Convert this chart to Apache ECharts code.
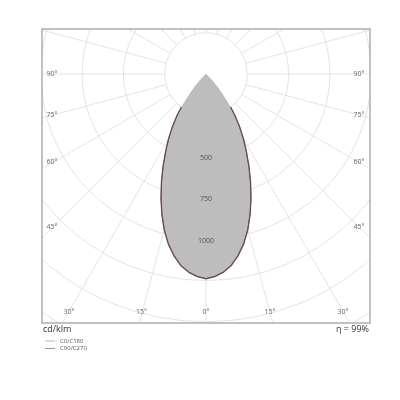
<!DOCTYPE html>
<html><head><meta charset="utf-8">
<script src="https://cdn.jsdelivr.net/npm/echarts@6/dist/echarts.min.js"></script>
<style>html,body{margin:0;padding:0;background:#fff}#c{width:400px;height:400px}</style>
</head><body><div id="c"></div>
<script>
// gamma angles (degrees from nadir)
const gammas = [0, 2.5, 5, 7.5, 10, 12.5, 15, 17.5, 20, 22.5, 25, 27.5, 30, 32.5, 35, 37.5, 40, 42.5, 45, 47.5, 50];
// luminous intensity cd/klm
const intensityC0   = [1240, 1228, 1205, 1170, 1118, 1055, 978, 890, 798, 705, 615, 530, 455, 380, 305, 228, 150, 100, 60, 25, 0];
const intensityC180 = [1240, 1228, 1205, 1170, 1118, 1055, 978, 890, 798, 705, 615, 530, 455, 380, 305, 228, 150, 100, 60, 25, 0];
const intensityC90  = [1238, 1226, 1203, 1167, 1115, 1052, 975, 887, 795, 702, 612, 527, 452, 377, 302, 225, 148, 98, 58, 23, 0];
const intensityC270 = [1238, 1226, 1203, 1167, 1115, 1052, 975, 887, 795, 702, 612, 527, 452, 377, 302, 225, 148, 98, 58, 23, 0];
const radiusLabels = [500, 750, 1000];
const sideAngleLabels = ['90°', '75°', '60°', '45°'];
const bottomAngleLabels = ['30°', '15°', '0°', '15°', '30°'];
const seriesNames = ['C0/C180', 'C90/C270'];

function plane(left, right) {
  const pts = [];
  for (let i = gammas.length - 1; i >= 0; i--) pts.push([left[i], -gammas[i]]);
  for (let i = 1; i < gammas.length; i++) pts.push([right[i], gammas[i]]);
  return pts;
}
const dataC0 = plane(intensityC180, intensityC0);
const dataC90 = plane(intensityC270, intensityC90);

const FL = 42, FR = 370, FT = 29, FB = 323, CX = 206, CY = 74;
const font = '"Open Sans", sans-serif';
const graphics = [
  {type:'rect', shape:{x:0,y:0,width:400,height:FT}, style:{fill:'#fff'}, z:100, silent:true},
  {type:'rect', shape:{x:0,y:FB,width:400,height:400-FB}, style:{fill:'#fff'}, z:100, silent:true},
  {type:'rect', shape:{x:0,y:0,width:FL,height:400}, style:{fill:'#fff'}, z:100, silent:true},
  {type:'rect', shape:{x:FR,y:0,width:400-FR,height:400}, style:{fill:'#fff'}, z:100, silent:true},
  {type:'rect', shape:{x:FL,y:FT,width:FR-FL,height:FB-FT}, style:{fill:null, stroke:'#adadad', lineWidth:1.5}, z:101, silent:true}
];
const sideY = [73.5, 115, 161.5, 227];
sideAngleLabels.forEach((t, i) => {
  graphics.push({type:'text', x:52, y:sideY[i], style:{text:t, fill:'#666', font:'7px ' + font, textAlign:'center', textVerticalAlign:'middle'}, z:102});
  graphics.push({type:'text', x:359, y:sideY[i], style:{text:t, fill:'#666', font:'7px ' + font, textAlign:'center', textVerticalAlign:'middle'}, z:102});
});
const bottomX = [69, 141.5, 206, 270, 343];
bottomAngleLabels.forEach((t, i) => {
  graphics.push({type:'text', x:bottomX[i], y:312, style:{text:t, fill:'#666', font:'7px ' + font, textAlign:'center', textVerticalAlign:'middle'}, z:102});
});
graphics.push({type:'text', x:43, y:329, style:{text:'cd/klm', fill:'#333', font:'9px ' + font, textAlign:'left', textVerticalAlign:'middle'}, z:102});
graphics.push({type:'text', x:369, y:329, style:{text:'η = 99%', fill:'#333', font:'9px ' + font, textAlign:'right', textVerticalAlign:'middle'}, z:102});

const chart = echarts.init(document.getElementById('c'));
chart.setOption({
  animation: false,
  backgroundColor: '#fff',
  polar: {center: [CX, CY], radius: [41.3, 330.4]},
  angleAxis: {
    type: 'value', min: -180, max: 180, interval: 15, startAngle: 90, clockwise: false,
    axisLine: {show: false}, axisTick: {show: false}, axisLabel: {show: false},
    splitLine: {show: true, lineStyle: {color: '#e4e4e4', width: 1}}
  },
  radiusAxis: {
    type: 'value', min: 250, max: 2000, interval: 250,
    axisLine: {show: false}, axisTick: {show: false}, axisLabel: {show: false},
    splitLine: {show: true, lineStyle: {color: '#e4e4e4', width: 1}}
  },
  legend: {
    data: seriesNames, orient: 'vertical', left: 45, top: 338, z: 110, padding: 0,
    icon: 'rect', itemWidth: 10, itemHeight: 1, itemGap: 1.5,
    textStyle: {fontSize: 6, lineHeight: 6, color: '#555', fontFamily: font}
  },
  graphic: graphics,
  series: [
    {
      type: 'custom', coordinateSystem: 'polar', data: dataC0, z: 1, silent: true,
      renderItem: function (params, api) {
        if (params.dataIndexInside !== 0) return;
        const pts = [];
        for (let i = 0; i < params.dataInsideLength; i++) {
          pts.push(api.coord([api.value(0, i), api.value(1, i)]));
        }
        return {type: 'polygon', shape: {points: pts}, style: {fill: '#bdbdbd'}};
      }
    },
    {
      name: seriesNames[0], type: 'line', coordinateSystem: 'polar', data: dataC0, clip: false,
      showSymbol: false, symbol: 'none', lineStyle: {color: '#a06060', width: 1.3}, itemStyle: {color: '#d9a8a4'}, z: 3
    },
    {
      name: seriesNames[1], type: 'line', coordinateSystem: 'polar', data: dataC90, clip: false,
      showSymbol: false, symbol: 'none', lineStyle: {color: '#4e4a4a', width: 0.9}, itemStyle: {color: '#9a9a9a'}, z: 4
    },
    {
      type: 'scatter', coordinateSystem: 'polar', data: radiusLabels.map(v => [v, 0]),
      symbolSize: 1, itemStyle: {color: 'rgba(0,0,0,0)'}, z: 5, silent: true,
      label: {show: true, position: 'inside', offset: [0, 1.5], formatter: p => String(p.value[0]), fontSize: 7, color: '#333', fontFamily: font}
    }
  ]
});
</script>
</body></html>
